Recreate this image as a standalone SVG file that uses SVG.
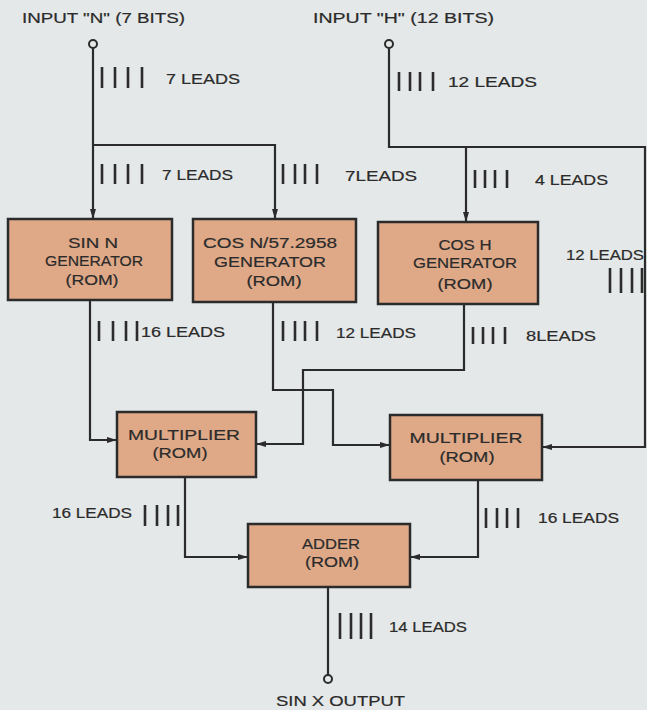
<svg xmlns="http://www.w3.org/2000/svg" width="647" height="710" viewBox="0 0 647 710">
<defs>
<marker id="ah" viewBox="0 0 10 6" refX="10" refY="3" markerWidth="10" markerHeight="6" markerUnits="userSpaceOnUse" orient="auto"><path d="M0 0 L10 3 L0 6 z" fill="#2b2b2b"/></marker>
<style>
.bg{fill:#e5e8e8}
.box{fill:#dfa988;stroke:#2b2b2b;stroke-width:2.5}
.c{fill:none;stroke:#2b2b2b;stroke-width:2.2}
.term{fill:#e5e8e8;stroke:#2b2b2b;stroke-width:2}
.h{stroke:#2b2b2b;stroke-width:2.6}
text{font-family:"Liberation Sans",Arial,sans-serif;font-size:14px;fill:#2b2b2b;stroke:#2b2b2b;stroke-width:0.2}
.m{text-anchor:middle}
</style>
</defs>
<rect class="bg" x="0" y="0" width="647" height="710"/>

<g id="connectors">
<path class="c" d="M93 48 V219" marker-end="url(#ah)"/>
<path class="c" d="M93 145 H275 V219" marker-end="url(#ah)"/>
<path class="c" d="M389 48 V147 H645 V447 H542" marker-end="url(#ah)"/>
<path class="c" d="M466 147 V222" marker-end="url(#ah)"/>
<path class="c" d="M90 300 V440 H117" marker-end="url(#ah)"/>
<path class="c" d="M273 302 V390 H333 V445 H390" marker-end="url(#ah)"/>
<path class="c" d="M464 304 V370 H303 V444 H256" marker-end="url(#ah)"/>
<path class="c" d="M185 477 V557 H248" marker-end="url(#ah)"/>
<path class="c" d="M478 480 V557 H410" marker-end="url(#ah)"/>
<path class="c" d="M328 587 V675"/>
</g>

<g id="hashes">
<path class="h" d="M102 67V88 M115 67V88 M128 67V88 M142 67V88"/>
<path class="h" d="M102 164V184 M115 164V184 M128 164V184 M142 164V184"/>
<path class="h" d="M283 164V184 M295 164V184 M305 164V184 M317 164V184"/>
<path class="h" d="M399 72V91 M410 72V91 M420 72V91 M433 72V91"/>
<path class="h" d="M475 170V188 M485 170V188 M495 170V188 M507 170V188"/>
<path class="h" d="M610 268V293 M621 268V293 M632 268V293 M642 268V293"/>
<path class="h" d="M99 321V341 M113 321V341 M126 321V341 M137 321V341"/>
<path class="h" d="M283 321V341 M295 321V341 M305 321V341 M317 321V341"/>
<path class="h" d="M473 327V344 M483 327V344 M493 327V344 M505 327V344"/>
<path class="h" d="M145 505V526 M157 505V526 M168 505V526 M178 505V526"/>
<path class="h" d="M486 508V528 M497 508V528 M507 508V528 M518 508V528"/>
<path class="h" d="M340 613V639 M351 613V639 M361 613V639 M371 613V639"/>
</g>

<g id="input-n">
<circle class="term" cx="93" cy="44" r="4"/>
<text x="22" y="23" textLength="163" lengthAdjust="spacingAndGlyphs">INPUT "N" (7 BITS)</text>
</g>
<g id="input-h">
<circle class="term" cx="389" cy="44" r="4"/>
<text x="313" y="23" textLength="181" lengthAdjust="spacingAndGlyphs">INPUT "H" (12 BITS)</text>
</g>

<g id="labels">
<text x="166" y="84" textLength="74" lengthAdjust="spacingAndGlyphs">7 LEADS</text>
<text x="162" y="180" textLength="71" lengthAdjust="spacingAndGlyphs">7 LEADS</text>
<text x="345" y="181" textLength="72" lengthAdjust="spacingAndGlyphs">7LEADS</text>
<text x="448" y="87" textLength="89" lengthAdjust="spacingAndGlyphs">12 LEADS</text>
<text x="535" y="185" textLength="73" lengthAdjust="spacingAndGlyphs">4 LEADS</text>
<text x="566" y="260" textLength="78" lengthAdjust="spacingAndGlyphs">12 LEADS</text>
<text x="141" y="337" textLength="84" lengthAdjust="spacingAndGlyphs">16 LEADS</text>
<text x="336" y="338" textLength="80" lengthAdjust="spacingAndGlyphs">12 LEADS</text>
<text x="526" y="341" textLength="70" lengthAdjust="spacingAndGlyphs">8LEADS</text>
<text x="52" y="518" textLength="80" lengthAdjust="spacingAndGlyphs">16 LEADS</text>
<text x="538" y="523" textLength="81" lengthAdjust="spacingAndGlyphs">16 LEADS</text>
<text x="389" y="632" textLength="78" lengthAdjust="spacingAndGlyphs">14 LEADS</text>
</g>

<g id="sin-n">
<rect class="box" x="8" y="219" width="164" height="81"/>
<text class="m" x="93" y="248" textLength="50" lengthAdjust="spacingAndGlyphs">SIN N</text>
<text class="m" x="94" y="266" textLength="98" lengthAdjust="spacingAndGlyphs">GENERATOR</text>
<text class="m" x="92" y="285" textLength="53" lengthAdjust="spacingAndGlyphs">(ROM)</text>
</g>
<g id="cos-n">
<rect class="box" x="193" y="219" width="163" height="83"/>
<text class="m" x="270" y="248" textLength="134" lengthAdjust="spacingAndGlyphs">COS N/57.2958</text>
<text class="m" x="270" y="267" textLength="112" lengthAdjust="spacingAndGlyphs">GENERATOR</text>
<text class="m" x="274" y="286" textLength="55" lengthAdjust="spacingAndGlyphs">(ROM)</text>
</g>
<g id="cos-h">
<rect class="box" x="378" y="222" width="160" height="82"/>
<text class="m" x="465" y="250" textLength="53" lengthAdjust="spacingAndGlyphs">COS H</text>
<text class="m" x="465" y="268" textLength="104" lengthAdjust="spacingAndGlyphs">GENERATOR</text>
<text class="m" x="465" y="289" textLength="55" lengthAdjust="spacingAndGlyphs">(ROM)</text>
</g>
<g id="multiplier-1">
<rect class="box" x="117" y="412" width="139" height="65"/>
<text class="m" x="184" y="440" textLength="112" lengthAdjust="spacingAndGlyphs">MULTIPLIER</text>
<text class="m" x="180" y="458" textLength="55" lengthAdjust="spacingAndGlyphs">(ROM)</text>
</g>
<g id="multiplier-2">
<rect class="box" x="390" y="415" width="152" height="65"/>
<text class="m" x="466" y="443" textLength="113" lengthAdjust="spacingAndGlyphs">MULTIPLIER</text>
<text class="m" x="467" y="462" textLength="55" lengthAdjust="spacingAndGlyphs">(ROM)</text>
</g>
<g id="adder">
<rect class="box" x="248" y="524" width="162" height="63"/>
<text class="m" x="331" y="549" textLength="58" lengthAdjust="spacingAndGlyphs">ADDER</text>
<text class="m" x="332" y="567" textLength="54" lengthAdjust="spacingAndGlyphs">(ROM)</text>
</g>
<g id="output">
<circle class="term" cx="328" cy="679" r="4"/>
<text x="276" y="706" textLength="129" lengthAdjust="spacingAndGlyphs">SIN X OUTPUT</text>
</g>
</svg>
